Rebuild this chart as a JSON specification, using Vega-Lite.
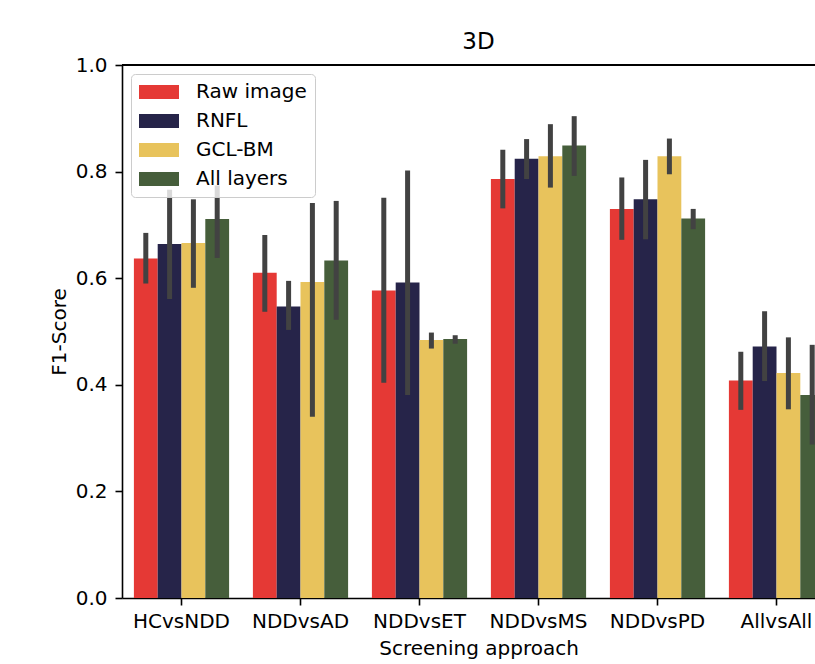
{
  "$schema": "https://vega.github.io/schema/vega-lite/v6.json",
  "width": 693,
  "height": 533,
  "autosize": {"type": "none"},
  "padding": {"left": 122, "top": 65, "right": 0, "bottom": 66},
  "title": {"text": "3D", "font": "DejaVu Sans", "fontSize": 23, "fontWeight": "normal", "color": "black", "baseline": "alphabetic", "offset": -17, "anchor": "middle", "dx": 10},
  "config": {
    "view": {"stroke": null},
    "font": "DejaVu Sans",
    "axis": {"grid": false, "labelFont": "DejaVu Sans", "titleFont": "DejaVu Sans", "labelFontSize": 20, "titleFontSize": 20, "titleFontWeight": "normal", "labelColor": "black", "titleColor": "black", "domainColor": "black", "tickColor": "black", "domainWidth": 1.6, "tickWidth": 1.6, "tickSize": 7}
  },
  "data": {"values": [
    {"group": "HCvsNDD", "model": "Raw image", "value": 0.637, "lo": 0.590, "hi": 0.685},
    {"group": "HCvsNDD", "model": "RNFL", "value": 0.664, "lo": 0.561, "hi": 0.766},
    {"group": "HCvsNDD", "model": "GCL-BM", "value": 0.666, "lo": 0.582, "hi": 0.748},
    {"group": "HCvsNDD", "model": "All layers", "value": 0.711, "lo": 0.638, "hi": 0.774},
    {"group": "NDDvsAD", "model": "Raw image", "value": 0.610, "lo": 0.537, "hi": 0.681},
    {"group": "NDDvsAD", "model": "RNFL", "value": 0.547, "lo": 0.503, "hi": 0.595},
    {"group": "NDDvsAD", "model": "GCL-BM", "value": 0.593, "lo": 0.340, "hi": 0.741},
    {"group": "NDDvsAD", "model": "All layers", "value": 0.633, "lo": 0.522, "hi": 0.745},
    {"group": "NDDvsET", "model": "Raw image", "value": 0.577, "lo": 0.404, "hi": 0.751},
    {"group": "NDDvsET", "model": "RNFL", "value": 0.592, "lo": 0.381, "hi": 0.802},
    {"group": "NDDvsET", "model": "GCL-BM", "value": 0.484, "lo": 0.468, "hi": 0.498},
    {"group": "NDDvsET", "model": "All layers", "value": 0.486, "lo": 0.477, "hi": 0.493},
    {"group": "NDDvsMS", "model": "Raw image", "value": 0.786, "lo": 0.731, "hi": 0.841},
    {"group": "NDDvsMS", "model": "RNFL", "value": 0.824, "lo": 0.786, "hi": 0.861},
    {"group": "NDDvsMS", "model": "GCL-BM", "value": 0.829, "lo": 0.770, "hi": 0.889},
    {"group": "NDDvsMS", "model": "All layers", "value": 0.849, "lo": 0.792, "hi": 0.904},
    {"group": "NDDvsPD", "model": "Raw image", "value": 0.730, "lo": 0.672, "hi": 0.789},
    {"group": "NDDvsPD", "model": "RNFL", "value": 0.748, "lo": 0.673, "hi": 0.822},
    {"group": "NDDvsPD", "model": "GCL-BM", "value": 0.829, "lo": 0.795, "hi": 0.862},
    {"group": "NDDvsPD", "model": "All layers", "value": 0.712, "lo": 0.692, "hi": 0.730},
    {"group": "AllvsAll", "model": "Raw image", "value": 0.408, "lo": 0.353, "hi": 0.462},
    {"group": "AllvsAll", "model": "RNFL", "value": 0.472, "lo": 0.407, "hi": 0.538},
    {"group": "AllvsAll", "model": "GCL-BM", "value": 0.422, "lo": 0.354, "hi": 0.489},
    {"group": "AllvsAll", "model": "All layers", "value": 0.381, "lo": 0.288, "hi": 0.475}
  ]},
  "encoding": {
    "x": {"field": "group", "type": "nominal", "sort": null,
      "scale": {"range": [0, 714], "paddingInner": 0.2, "paddingOuter": 0.1},
      "axis": {"title": "Screening approach", "labelAngle": 0, "labelPadding": 6, "titlePadding": 7, "titleX": 356.5, "titleAlign": "center", "titleAnchor": "start"}},
    "xOffset": {"field": "model", "type": "nominal", "scale": {"domain": ["Raw image", "RNFL", "GCL-BM", "All layers"], "paddingInner": 0, "paddingOuter": 0}}
  },
  "layer": [
    {
      "mark": {"type": "bar", "clip": true},
      "encoding": {
        "y": {"field": "value", "type": "quantitative", "scale": {"domain": [0, 1], "nice": false, "zero": true},
          "axis": {"title": "F1-Score", "values": [0, 0.2, 0.4, 0.6, 0.8, 1.0], "format": ".1f", "labelPadding": 8, "titlePadding": 6}},
        "color": {"field": "model", "type": "nominal",
          "scale": {"domain": ["Raw image", "RNFL", "GCL-BM", "All layers"], "range": ["#e53935", "#262449", "#e8c35c", "#465e3b"]},
          "legend": {"title": null, "orient": "top-left", "offset": 9, "padding": 8,
            "symbolType": "M-2,-0.7H2V0.7H-2Z", "symbolSize": 400, "symbolStrokeWidth": 0, "symbolOpacity": 1, "symbolOffset": 10,
            "labelFont": "DejaVu Sans", "labelFontSize": 20, "labelColor": "black", "labelOffset": 27, "rowPadding": 9,
            "fillColor": "rgba(255,255,255,0.8)", "strokeColor": "#cccccc", "cornerRadius": 4}}
      }
    },
    {
      "mark": {"type": "rule", "color": "#424242", "strokeWidth": 5, "clip": true},
      "encoding": {
        "y": {"field": "lo", "type": "quantitative"},
        "y2": {"field": "hi"}
      }
    },
    {
      "mark": {"type": "rule", "color": "black", "strokeWidth": 1.6},
      "encoding": {"y": {"datum": 1, "type": "quantitative"}, "x": null, "xOffset": null}
    }
  ]
}
